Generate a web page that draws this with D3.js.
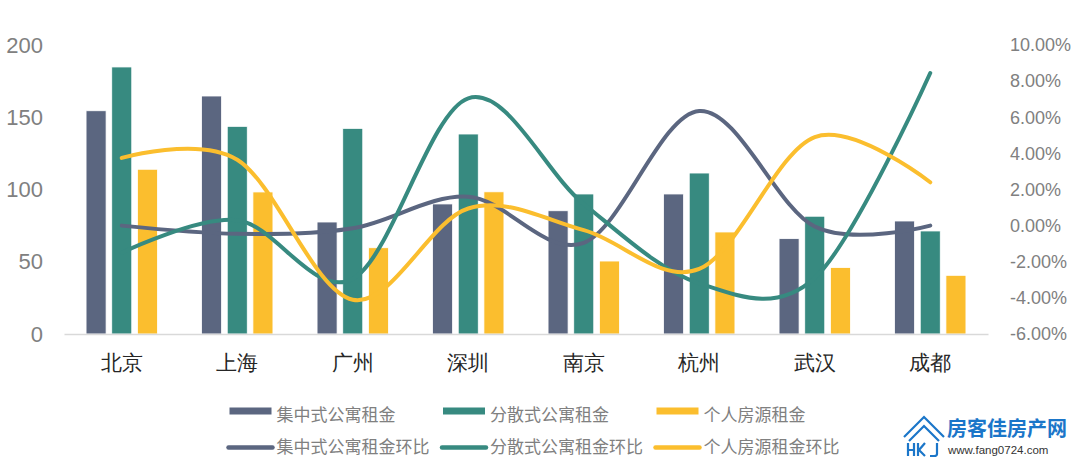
<!DOCTYPE html>
<html>
<head>
<meta charset="utf-8">
<script src="https://cdn.jsdelivr.net/npm/d3@7"></script>
<style>
  html, body { margin: 0; padding: 0; background: #fff; }
  svg { display: block; font-family: "Noto Sans CJK SC", "Noto Sans", sans-serif; }
</style>
</head>
<body>
<div id="chart"></div>
<script>
// Categories
const cities = ["北京", "上海", "广州", "深圳", "南京", "杭州", "武汉", "成都"];

// Rents (left axis)
const rentCentral = [154.5, 164.7, 77.5, 90.0, 85.3, 96.9, 66.0, 78.2];
const rentScattered = [184.8, 143.7, 142.3, 138.4, 96.9, 111.4, 81.5, 71.3];
const rentPersonal = [114.0, 98.3, 59.7, 98.4, 50.5, 70.6, 46.0, 40.6];

// Month-on-month change (right axis, fractions)
const momCentral = [0.0, -0.45, -0.15, 1.6, -0.95, 6.35, -0.05, 0.0].map((v) => v / 100);
const momScattered = [-1.5, 0.3, -2.95, 7.05, 1.2, -3.2, -2.9, 8.45].map((v) => v / 100);
const momPersonal = [3.75, 3.65, -4.1, 0.95, -0.25, -2.4, 4.9, 2.4].map((v) => v / 100);

// Series names and tick values
const barNames = ["集中式公寓租金", "分散式公寓租金", "个人房源租金"];
const lineNames = ["集中式公寓租金环比", "分散式公寓租金环比", "个人房源租金环比"];
const leftTicks = [0, 50, 100, 150, 200];
const rightTicks = [-0.06, -0.04, -0.02, 0, 0.02, 0.04, 0.06, 0.08, 0.1];

const colours = ["#5b6680", "#378a80", "#fbbe2e"];

const width = 1080;
const height = 464;
const plot = { left: 64, right: 988, top: 45, bottom: 334 };

const barSeries = [rentCentral, rentScattered, rentPersonal];
const lineSeries = [momCentral, momScattered, momPersonal];

const svg = d3
  .select("#chart")
  .append("svg")
  .attr("width", width)
  .attr("height", height);

svg.append("rect").attr("width", width).attr("height", height).attr("fill", "#fff");

// Scales
const x0 = d3
  .scaleBand()
  .domain(cities)
  .range([plot.left, plot.right])
  .paddingInner(0.382)
  .paddingOuter(0.191);

const x1 = d3
  .scaleBand()
  .domain(d3.range(barNames.length))
  .range([0, x0.bandwidth()])
  .paddingInner(0.22);

const yLeft = d3.scaleLinear().domain([0, 200]).range([plot.bottom, plot.top]);
const yRight = d3.scaleLinear().domain([-0.06, 0.1]).range([plot.bottom, plot.top]);

// Percent formatter with a plain hyphen for negatives
const pctFormat = d3
  .formatLocale({ decimal: ".", thousands: ",", grouping: [3], currency: ["", ""], minus: "-" })
  .format(".2%");

// Left axis
const leftAxisG = svg
  .append("g")
  .attr("transform", `translate(${plot.left},0)`)
  .call(d3.axisLeft(yLeft).tickValues(leftTicks).tickSize(0).tickPadding(21));
leftAxisG.select(".domain").remove();
leftAxisG
  .selectAll("text")
  .attr("fill", "#808080")
  .style("font-size", "22px")
  .style("font-weight", 300);

// Right axis
const rightAxisG = svg
  .append("g")
  .attr("transform", `translate(${plot.right},0)`)
  .call(d3.axisRight(yRight).tickValues(rightTicks).tickFormat(pctFormat).tickSize(0).tickPadding(22));
rightAxisG.select(".domain").remove();
rightAxisG
  .selectAll("text")
  .attr("fill", "#808080")
  .style("font-size", "18px")
  .style("font-weight", 300);

// Bars
const groups = svg
  .append("g")
  .selectAll("g")
  .data(cities)
  .join("g")
  .attr("transform", (d) => `translate(${x0(d)},0)`);

groups
  .selectAll("rect")
  .data((d, i) => barSeries.map((s, k) => ({ k, value: s[i] })))
  .join("rect")
  .attr("x", (d) => x1(d.k))
  .attr("y", (d) => yLeft(d.value))
  .attr("width", x1.bandwidth())
  .attr("height", (d) => yLeft(0) - yLeft(d.value))
  .attr("fill", (d) => colours[d.k])
  .attr("stroke", "#fff")
  .attr("stroke-width", 0.8);

// Bottom axis (baseline + city labels)
const bottomAxisG = svg
  .append("g")
  .attr("transform", `translate(0,${plot.bottom})`)
  .call(d3.axisBottom(x0).tickSize(0).tickPadding(21));
bottomAxisG.select(".domain").attr("stroke", "#d9d9d9").attr("stroke-width", 1.5);
bottomAxisG
  .selectAll("text")
  .attr("fill", "#262626")
  .style("font-size", "21px");

// Smoothed lines
const line = d3
  .line()
  .x((d, i) => x0(cities[i]) + x0.bandwidth() / 2)
  .y((d) => yRight(d))
  .curve(d3.curveCatmullRom.alpha(0));

svg
  .append("g")
  .selectAll("path")
  .data(lineSeries)
  .join("path")
  .attr("d", (d) => line(d))
  .attr("fill", "none")
  .attr("stroke", (d, i) => colours[i])
  .attr("stroke-width", 4)
  .attr("stroke-linecap", "round");

// Legend
const legendX = [229.5, 443, 656.5];
const legend = svg.append("g").style("font-size", "17px").attr("fill", "#808080");

barNames.forEach((name, i) => {
  legend
    .append("rect")
    .attr("x", legendX[i])
    .attr("y", 407.5)
    .attr("width", 42)
    .attr("height", 7)
    .attr("fill", colours[i]);
  legend
    .append("text")
    .attr("x", legendX[i] + 47)
    .attr("y", 415.5)
    .attr("dy", "0.35em")
    .text(name);
});

lineNames.forEach((name, i) => {
  legend
    .append("line")
    .attr("x1", legendX[i] - 1)
    .attr("x2", legendX[i] + 43)
    .attr("y1", 447.5)
    .attr("y2", 447.5)
    .attr("stroke", colours[i])
    .attr("stroke-width", 4.5)
    .attr("stroke-linecap", "round");
  legend
    .append("text")
    .attr("x", legendX[i] + 47)
    .attr("y", 447.5)
    .attr("dy", "0.35em")
    .text(name);
});

// Watermark logo
const logo = svg.append("g").attr("fill", "none").attr("stroke", "#1b76c9").attr("stroke-width", 2.2);
logo.append("path").attr("d", "M904,437 L924,417 L944,437");
logo.append("path").attr("d", "M909,441 L924,426 L939,441");
logo.append("path").attr("d", "M908,443 V456 M908,450 H914 M914,443 V456");
logo.append("path").attr("d", "M918,443 V456 M925,443 L919,450 L925,456");
logo.append("path").attr("d", "M937,443 V454 Q937,456 934,456 H930");

svg
  .append("text")
  .attr("x", 947)
  .attr("y", 429)
  .attr("dy", "0.35em")
  .attr("fill", "#1b76c9")
  .style("font-size", "20px")
  .style("font-weight", 700)
  .text("房客佳房产网");

svg
  .append("text")
  .attr("x", 948)
  .attr("y", 450)
  .attr("dy", "0.35em")
  .attr("fill", "#333")
  .style("font-family", "'Liberation Sans', Arial, sans-serif")
  .style("font-size", "11.5px")
  .text("www.fang0724.com");
</script>
</body>
</html>
